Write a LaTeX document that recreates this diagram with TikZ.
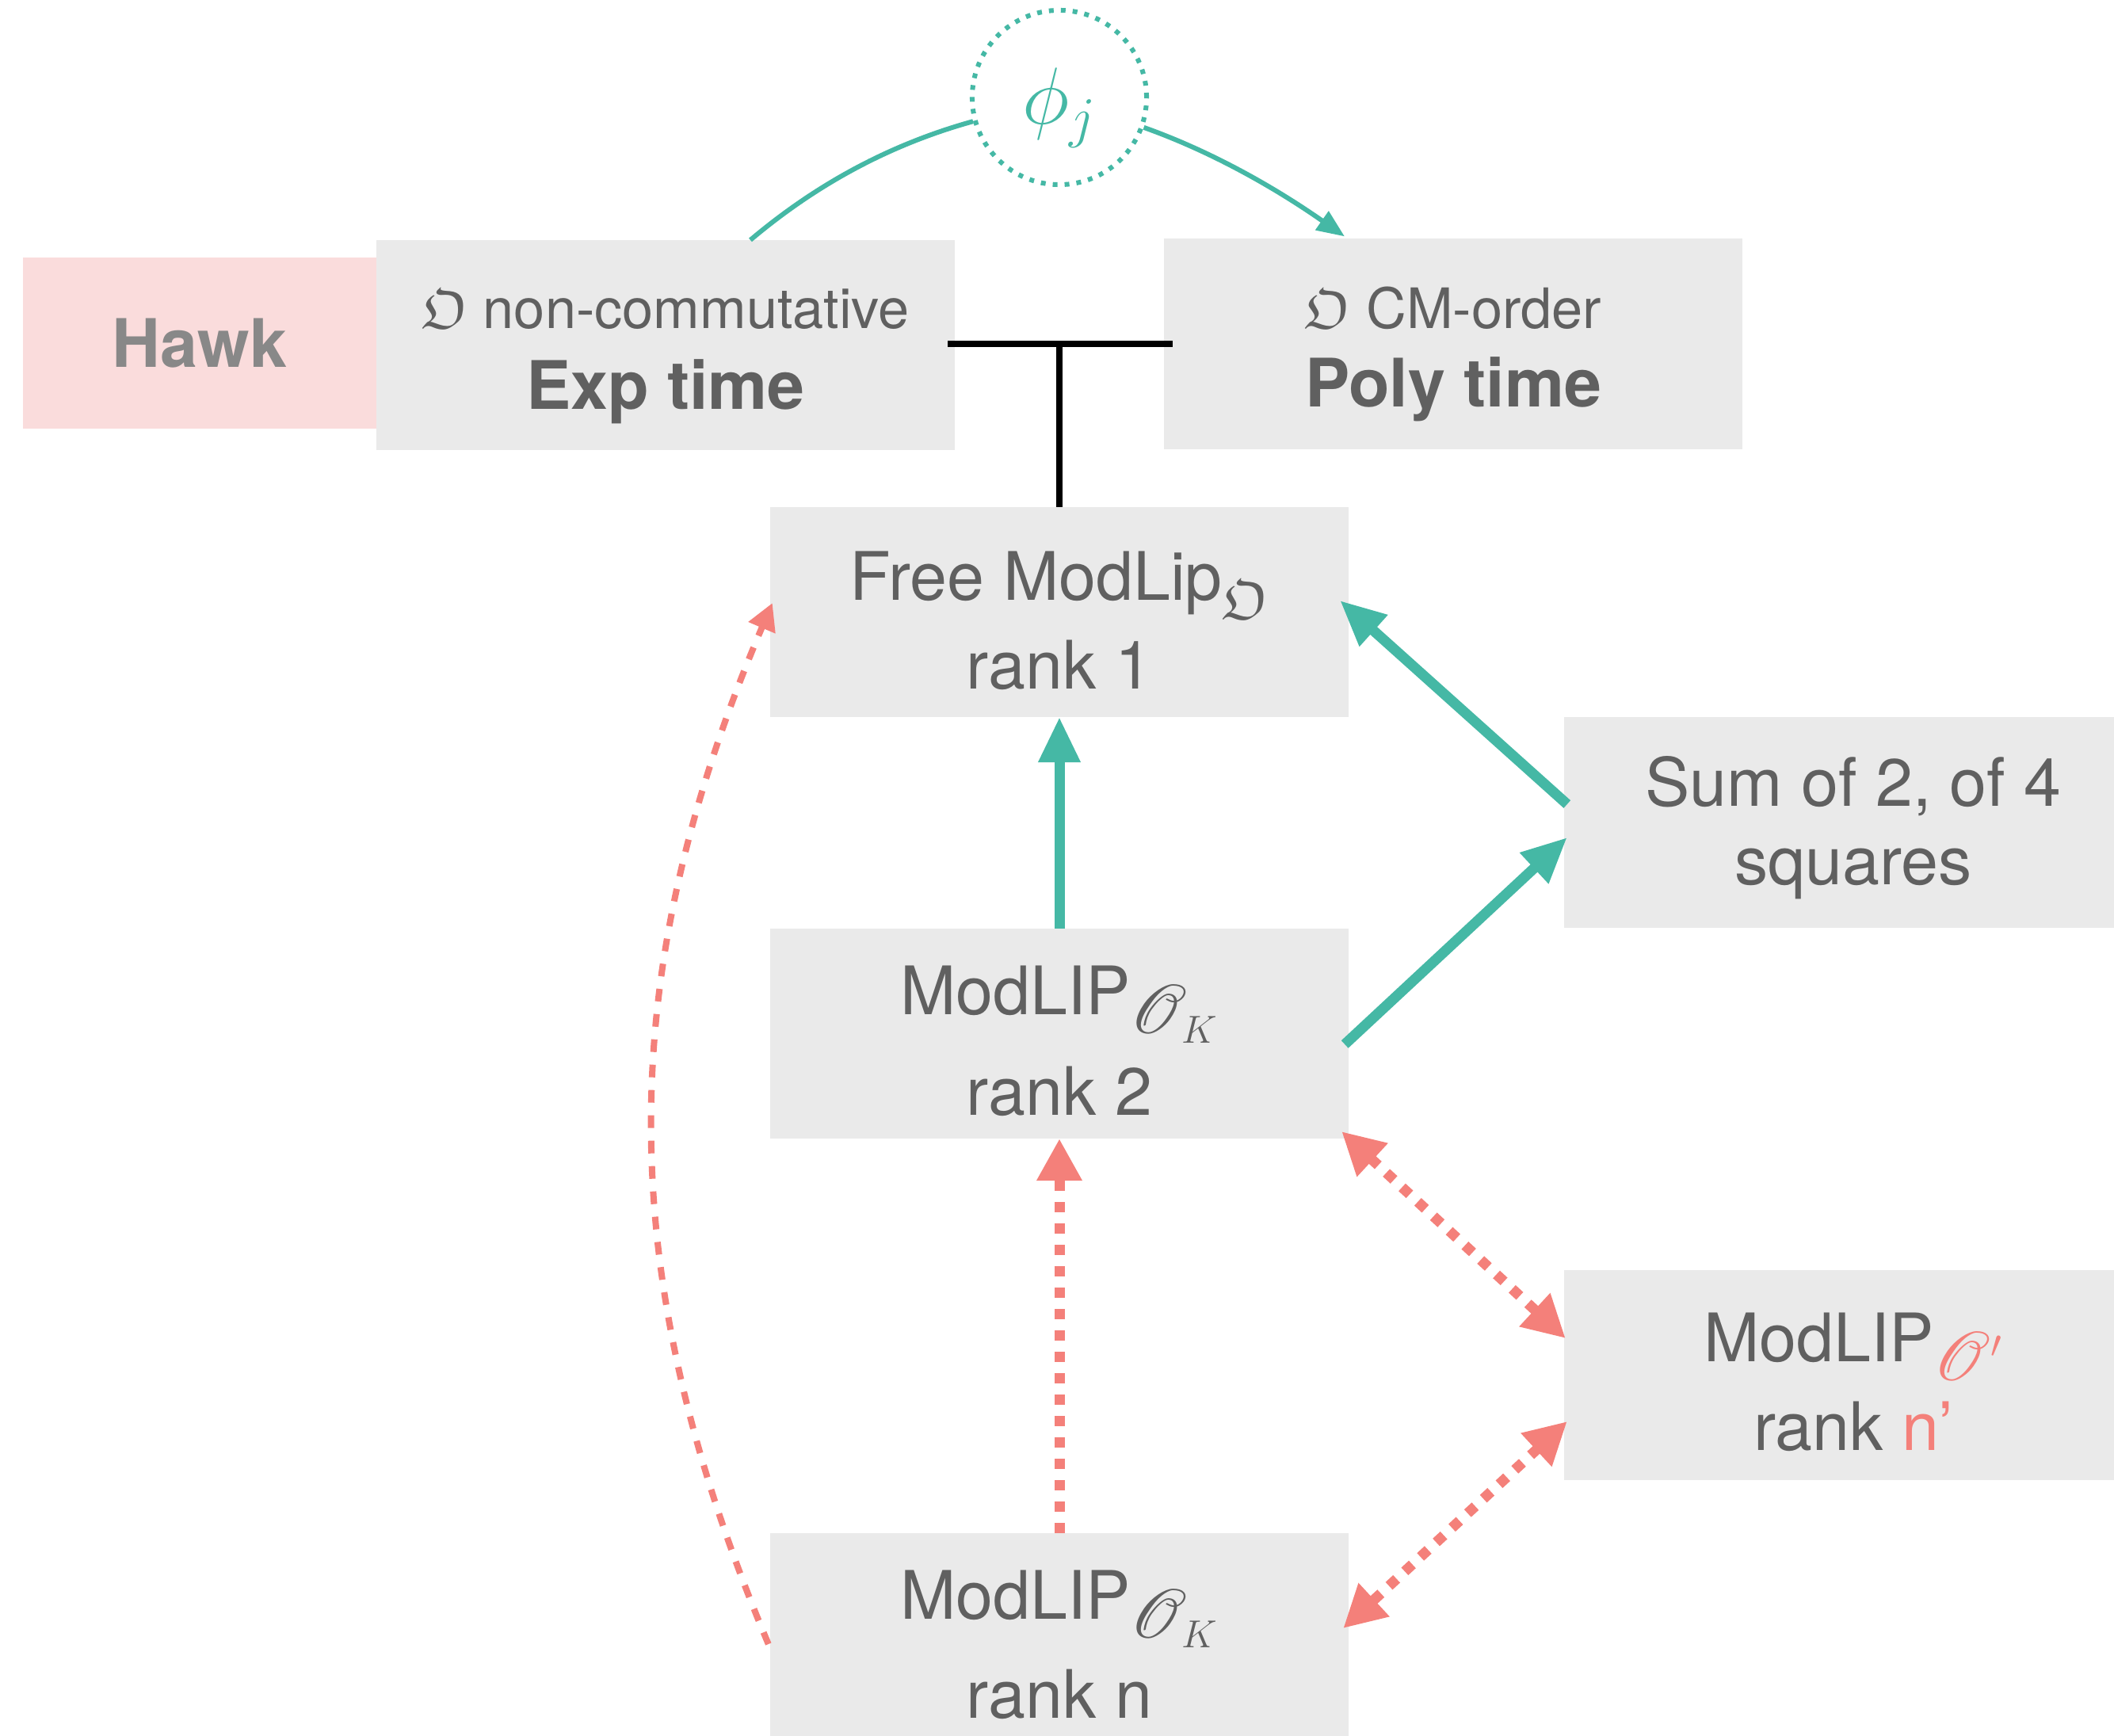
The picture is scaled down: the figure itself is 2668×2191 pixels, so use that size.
\RequirePackage{fix-cm}
\documentclass[tikz,border=0pt]{standalone}
\usepackage{amssymb}
\usepackage{mathrsfs}
\usepackage{fontspec}
\setmainfont{TeX Gyre Heros}
\usetikzlibrary{arrows.meta,calc}
\DeclareMathSizes{23}{23}{14}{10}
\definecolor{tealc}{RGB}{69,184,165}
\definecolor{salmon}{RGB}{244,128,122}
\definecolor{boxgray}{RGB}{234,234,234}
\definecolor{textgray}{RGB}{96,96,96}
\definecolor{hawkpink}{RGB}{250,220,220}
\definecolor{hawktext}{RGB}{136,136,136}
\newcommand\lowsub[1]{\raisebox{-7pt}{\fontsize{20}{20}\selectfont$#1$}}
\newcommand\lowscr[1]{\raisebox{-7pt}{\fontsize{23}{23}\selectfont$#1$}}
\tikzset{
  box/.style={rectangle, fill=boxgray, minimum width=7.3cm, minimum height=2.65cm, inner sep=0pt, outer sep=0pt},
  hawkbox/.style={rectangle, fill=hawkpink, minimum width=4.46cm, minimum height=2.16cm, inner sep=0pt, outer sep=0pt},
  big/.style={anchor=base, inner sep=0pt, text=textgray, font=\fontsize{24}{24}\selectfont},
  small/.style={anchor=base, inner sep=0pt, text=textgray, font=\fontsize{20}{20}\selectfont},
  bigbold/.style={anchor=base, inner sep=0pt, text=textgray, font=\fontsize{24}{24}\selectfont\bfseries},
  phicirc/.style={circle, draw=tealc, line width=0.06cm, dash pattern=on 0.06cm off 0.09cm, minimum size=2.2cm, inner sep=0pt},
  tealarrow/.style={draw=tealc, line width=0.13cm, -{Triangle[length=0.57cm,width=0.5cm]}},
  tealthin/.style={draw=tealc, line width=0.06cm},
  redarrow/.style={draw=salmon, line width=0.13cm, dash pattern=on 0.13cm off 0.14cm, -{Triangle[length=0.53cm,width=0.54cm]}},
  redboth/.style={draw=salmon, line width=0.13cm, dash pattern=on 0.13cm off 0.14cm, {Triangle[length=0.53cm,width=0.54cm]}-{Triangle[length=0.53cm,width=0.54cm]}},
  redcurve/.style={draw=salmon, line width=0.08cm, dash pattern=on 0.16cm off 0.16cm, -{Triangle[length=0.34cm,width=0.35cm]}},
  tbar/.style={draw=black, line width=0.08cm},
}
\begin{document}
\begin{tikzpicture}[x=0.01cm,y=-0.01cm]
\useasboundingbox (0,0) rectangle (2668,2191);
\clip (0,0) rectangle (2668,2191);
% boxes
\node[hawkbox] (hawk) at (252,433) {};
\node[box] (exp) at (840,435.5) {};
\node[box] (poly) at (1834,434) {};
\node[box] (r1) at (1337,772.5) {};
\node[box] (sum) at (2339,1038) {};
\node[box] (r2) at (1337,1304.5) {};
\node[box] (op) at (2339,1735.5) {};
\node[box] (rn) at (1337,2067.5) {};
\node[phicirc] (phi) at (1337,123) {};
% T bar
\coordinate (barL) at ($(exp.east)+(-9,-1.5)$);
\coordinate (barR) at ($(poly.west)+(11,0)$);
\draw[tbar] (barL) -- (barR);
\draw[tbar] (r1.north) -- (r1.north |- barL);
% top teal curve
\draw[tealthin] ($(exp.north)+(107,0)$) .. controls (1031,232) and (1124,182) .. (phi);
\draw[tealthin, -{Triangle[length=0.35cm,width=0.28cm]}] (phi) .. controls (1534,193) and (1615,241) .. ($(poly.north)+(-137,-3)$);
% teal arrows
\draw[tealarrow] (r2.north) -- (r1.south);
\draw[tealarrow] ($(sum.west)+(4,-23)$) -- ($(r1.east)+(-11,-14.5)$);
\draw[tealarrow] ($(r2.east)+(-5,13.5)$) -- ($(sum.west)+(4,19)$);
% red arrows
\draw[redarrow] (rn.north) -- (r2.south);
\draw[redboth] ($(r2.south east)+(-9,-9)$) -- ($(op.west)+(2,-46.5)$);
\draw[redboth] ($(op.west)+(4,58.5)$) -- ($(rn.east)+(-7,-12.5)$);
\draw[redcurve] ($(rn.west)+(-2,7.5)$) .. controls (772,1606) and (775,1230) .. ($(r1.west)+(3,-11.5)$);
% texts
\node[text=tealc, font=\fontsize{29}{29}\selectfont, inner sep=0pt] (phit) at ($(phi)+(0,13)$) {$\phi_j$};
\node[small] (expt1) at ($(exp)+(0,-20.5)$) {$\mathfrak{O}$ non-commutative};
\node[bigbold] (expt2) at ($(exp)+(0,80.5)$) {Exp time};
\node[small] (polyt1) at ($(poly)+(0,-19)$) {$\mathfrak{O}$ CM-order};
\node[bigbold] (polyt2) at ($(poly)+(0,80)$) {Poly time};
\node[bigbold, text=hawktext] (hawkt) at ($(hawk)+(0,30)$) {Hawk};
\node[big] (r1t1) at ($(r1)+(0,-15.5)$) {Free ModLip\lowsub{\mathfrak{O}}};
\node[big] (r1t2) at ($(r1)+(0,96.5)$) {rank 1};
\node[big] (sumt1) at ($(sum)+(0,-21)$) {Sum of 2, of 4};
\node[big] (sumt2) at ($(sum)+(0,78)$) {squares};
\node[big] (r2t1) at ($(r2)+(0,-24.5)$) {ModLIP\lowscr{\mathscr{O}_K}};
\node[big] (r2t2) at ($(r2)+(0,102.5)$) {rank 2};
\node[big] (opt1) at ($(op)+(0,-17.5)$) {ModLIP\lowscr{\color{salmon}\mathscr{O}'}};
\node[big] (opt2) at ($(op)+(0,94.5)$) {rank \textcolor{salmon}{n’}};
\node[big] (rnt1) at ($(rn)+(0,-24.5)$) {ModLIP\lowscr{\mathscr{O}_K}};
\node[big] (rnt2) at ($(rn)+(0,100.5)$) {rank n};
\end{tikzpicture}
\end{document}
